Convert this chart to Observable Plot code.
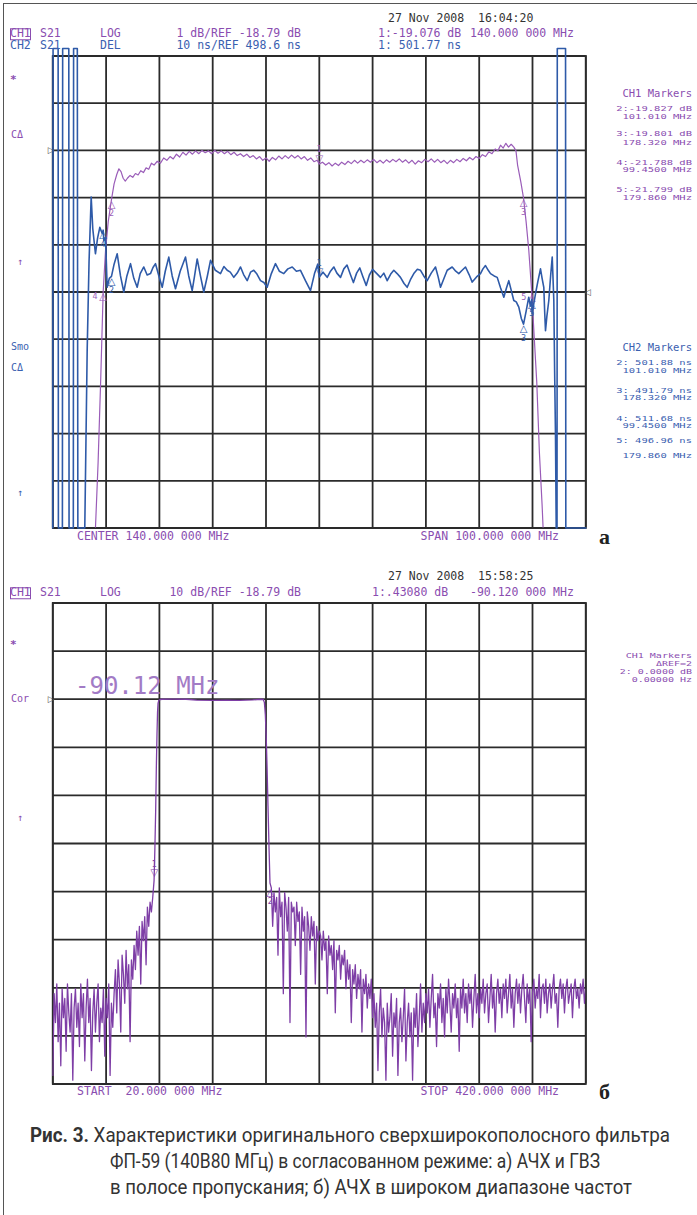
<!DOCTYPE html>
<html>
<head>
<meta charset="utf-8">
<script src="https://cdn.jsdelivr.net/npm/d3@7"></script>
<script src="https://cdn.jsdelivr.net/npm/@observablehq/plot@0.6"></script>
<style>
html,body{margin:0;padding:0;background:#fff;}
#page{position:relative;width:697px;height:1215px;overflow:hidden;background:#fff;}
.t{position:absolute;font-family:"DejaVu Sans Mono",monospace;font-size:11.5px;white-space:pre;line-height:1;transform:translateY(-50%);}
.sq{transform:translateY(-50%) scaleY(0.7);}
.p{color:#8a4db0;}
.b{color:#3a60b0;}
.box{outline:1px solid currentColor;outline-offset:-1px;}
#border{position:absolute;left:3px;top:3px;width:720px;height:1240px;border-left:1.3px solid #555;border-top:1.3px solid #555;}
</style>
</head>
<body>
<div id="page"><div id="border"></div></div>
<script>
// ---------------- DATA ----------------
// Top chart (a): CH1 S21 LOG 1 dB/div, REF -18.79 dB ; CH2 DEL 10 ns/div, REF 498.6 ns ; 90..190 MHz
const topFreqTicks = [90,100,110,120,130,140,150,160,170,180,190];
const ch1DbTicks = [-16.79,-17.79,-18.79,-19.79,-20.79,-21.79,-22.79,-23.79,-24.79,-25.79,-26.79];
const ch1Ref = -18.79;
const ch2Ref = 498.6;

// CH1 amplitude trace [MHz, dB]
const ch1Trace = [
[97.6,-28.0],[98.0,-26.8],[98.5,-25.4],[99.0,-23.6],[99.45,-21.79],[99.9,-20.9],[100.4,-20.3],[101.01,-19.83],[101.5,-19.5],[102.0,-19.3],
[102.4,-19.18],[102.8,-19.24],[103.2,-19.38],[103.6,-19.44],[104.0,-19.38],[104.5,-19.32],[105.0,-19.36],[105.5,-19.28],[106.0,-19.31],[106.5,-19.22],
[107.0,-19.26],[107.5,-19.16],[108.0,-19.19],[108.5,-19.06],[109.0,-19.1],[109.6,-19.02],[110.2,-19.06],[110.8,-18.95],[111.4,-19.0],[112.0,-18.92],
[112.6,-18.97],[113.2,-18.87],[113.8,-18.93],[114.4,-18.83],[115.0,-18.89],[115.6,-18.81],[116.2,-18.87],[116.8,-18.8],[117.4,-18.86],[118.0,-18.79],
[118.6,-18.84],[119.2,-18.8],[119.8,-18.86],[120.4,-18.79],[121.0,-18.85],[121.6,-18.8],[122.2,-18.86],[122.8,-18.81],[123.4,-18.88],[124.0,-18.83],
[124.6,-18.9],[125.2,-18.86],[125.8,-18.92],[126.4,-18.87],[127.0,-18.94],[127.6,-18.9],[128.2,-18.97],[128.8,-18.92],[129.4,-19.0],[130.0,-18.95],
[130.6,-19.02],[131.2,-18.94],[131.8,-18.99],[132.4,-18.91],[133.0,-18.97],[133.6,-18.9],[134.2,-18.96],[134.8,-18.89],[135.4,-18.95],[136.0,-18.9],
[136.6,-18.97],[137.2,-18.92],[137.8,-19.0],[138.4,-18.95],[139.0,-19.03],[139.6,-19.0],[140.0,-19.08],[140.6,-19.04],[141.2,-19.1],[141.8,-19.05],
[142.4,-19.12],[143.0,-19.06],[143.6,-19.11],[144.2,-19.04],[144.8,-19.09],[145.4,-19.02],[146.0,-19.07],[146.6,-19.0],[147.2,-19.06],[147.8,-19.0],
[148.4,-19.05],[149.0,-18.99],[149.6,-19.04],[150.2,-18.98],[150.8,-19.05],[151.4,-19.0],[152.0,-19.06],[152.6,-18.99],[153.2,-19.04],[153.8,-18.98],
[154.4,-19.03],[155.0,-18.97],[155.6,-19.04],[156.2,-18.99],[156.8,-19.06],[157.4,-19.0],[158.0,-19.08],[158.6,-19.01],[159.2,-19.05],[159.8,-18.98],
[160.4,-19.03],[161.0,-18.97],[161.6,-19.04],[162.2,-18.98],[162.8,-19.05],[163.4,-19.0],[164.0,-19.07],[164.6,-19.0],[165.2,-19.05],[165.8,-18.98],
[166.4,-19.03],[167.0,-18.96],[167.6,-19.01],[168.2,-18.94],[168.8,-18.99],[169.4,-18.92],[170.0,-18.96],[170.6,-18.88],[171.2,-18.92],[171.8,-18.82],
[172.4,-18.86],[173.0,-18.76],[173.5,-18.8],[174.0,-18.68],[174.5,-18.74],[175.0,-18.64],[175.5,-18.72],[176.0,-18.66],[176.5,-18.72],[176.9,-18.8],
[177.2,-19.1],[177.8,-19.45],[178.32,-19.8],[178.8,-20.3],[179.3,-20.9],[179.86,-21.8],[180.3,-22.7],[180.8,-23.7],[181.3,-25.2],[181.8,-26.3],[182.3,-27.6]
];

// CH2 group delay trace [MHz, ns]; off-screen excursions shown pinned at the graticule edges as on the screen
const ch2Trace = [
[90.0,448.6],[90.05,550.2],[91.0,550.2],[91.05,448.6],[91.8,448.6],[91.85,550.2],[93.0,550.2],[93.05,448.6],[93.85,448.6],[93.9,550.2],[94.6,550.2],[94.7,448.6],[96.0,448.6],
[96.45,486.2],[96.8,505],[97.2,518.7],[97.5,512],[98.0,506.7],[98.4,510],[98.82,512.3],[99.27,511],[99.45,511.7],[99.57,509.5],[99.89,510.2],[100.2,499.6],
[100.6,501.5],[101.01,501.9],[101.5,504.5],[102.08,506.7],[102.7,502],[103.32,498.6],[103.9,502],[104.58,504.6],[105.2,501.5],[105.83,499.6],
[106.4,502.5],[107.07,503.9],[107.7,502.2],[108.33,502.5],[108.8,503.8],[109.27,504.6],[109.9,502],[110.53,499.6],[111.1,503],[111.76,506.0],
[112.4,502],[113.02,499.3],[113.9,503],[114.9,506.0],[115.5,502],[116.15,498.9],[116.6,502],[117.09,505.6],[117.7,502],[118.33,498.6],
[119.0,502],[119.59,505.3],[120.5,503.2],[121.46,502.5],[122.1,504],[122.72,503.2],[123.3,502.8],[123.96,501.7],[124.6,502.6],[125.22,503.9],
[125.8,502.3],[126.47,501.0],[127.1,502.8],[127.71,503.2],[128.3,502.4],[128.97,501.0],[129.6,500.6],[130.22,499.6],[131.0,502.5],[131.78,504.6],
[132.5,503],[133.34,502.5],[134.1,503.5],[134.92,503.9],[135.7,503.0],[136.47,503.2],[137.4,501],[138.35,498.9],[139.1,502.5],[139.7,504.5],
[140.0,501.8],[140.7,502.8],[141.48,501.7],[142.1,503],[142.72,503.9],[143.3,502.6],[143.98,501.7],[144.6,503.5],[145.2,504.3],[145.8,502.4],
[146.4,500.6],[147.0,502.6],[147.6,503.7],[148.2,501.8],[148.8,500.0],[149.4,502.2],[150.0,503.4],[150.7,502.6],[151.48,501.7],[152.1,502.6],
[152.74,501.0],[153.4,502.4],[153.98,503.2],[154.6,502.5],[155.23,501.7],[155.9,500.4],[156.49,499.6],[157.1,501.2],[157.73,502.5],[158.4,503.4],
[158.99,503.2],[159.6,502.0],[160.24,501.0],[161.0,502.6],[161.8,503.9],[162.3,501.8],[162.74,499.6],[163.4,501.5],[164.0,503.2],[164.93,503.9],
[165.6,503.0],[166.17,502.5],[166.8,503.2],[167.43,503.9],[168.1,502.3],[168.69,500.7],[169.5,501.8],[170.24,502.5],[170.7,503.5],[171.18,504.2],
[171.7,503.2],[172.12,502.5],[172.8,502.0],[173.38,501.7],[174.0,499.5],[174.62,497.5],[175.1,499.4],[175.55,501.0],[176.0,499.0],[176.49,496.8],
[176.95,496.5],[177.43,495.4],[177.9,493],[178.32,491.8],[178.8,494.5],[179.3,497.5],[179.6,495.6],[179.86,497.0],[179.94,494.0],[180.25,496.2],
[180.56,498.2],[181.0,500.8],[181.5,503.5],[181.8,501.5],[182.12,499.6],[182.3,494],[182.44,490.4],[182.7,493.5],[183.06,496.8],[183.4,502],
[183.7,506.0],[183.85,501.5],[184.0,496.8],[184.15,482],[184.31,468.6],[184.45,448.6],[184.6,448.6],[184.65,550.2],[186.2,550.2],[186.25,448.6],[190.0,448.6]
];

const ch1Markers = [
  {n:"1", f:140.0, v:-19.076, active:true},
  {n:"2", f:101.01, v:-19.827},
  {n:"3", f:178.32, v:-19.801},
  {n:"4", f:99.45, v:-21.788, side:true},
  {n:"5", f:179.86, v:-21.799, side:true}
];
const ch2Markers = [
  {n:"1", f:140.0, v:501.77, active:true},
  {n:"2", f:101.01, v:501.88},
  {n:"3", f:178.32, v:491.79},
  {n:"4", f:99.45, v:511.68},
  {n:"5", f:179.86, v:496.96}
];

// Bottom chart (б): CH1 S21 LOG 10 dB/div, REF -18.79 dB, 20..420 MHz
const botFreqTicks = [20,60,100,140,180,220,260,300,340,380,420];
const botDbTicks = [1.21,-8.79,-18.79,-28.79,-38.79,-48.79,-58.79,-68.79,-78.79,-88.79,-98.79];
const botRef = -18.79;
// sweep points 1 MHz apart from 20 MHz (left stop band), dB
const botLeftStart = 20;
const botLeftNoise = [
-97,-80,-86,-78,-90,-82,-95,-79,-85,-81,-92,-78,-84,-88,-80,-98,-83,-79,-87,-82,
-91,-78,-85,-80,-94,-83,-77,-86,-81,-96,-84,-79,-88,-82,-78,-90,-83,-86,-79,-93,
-81,-85,-78,-97,-82,-87,
-80,-75,-84,-73,-78,-88,-72,-76,-82,-71,-79,-74,-90,-73,-77,
-70,-75,-67,-72,-66,-78,-65,-69,-64,-74,-62,-66,-61,-63,-60
];
// skirts and passband [MHz, dB]
const botPass = [
[96.0,-56.5],[96.6,-50],[97.2,-42],[97.7,-33],[98.2,-26],[98.6,-21.5],[99.0,-19.6],[99.6,-19.0],[100.5,-18.85],[102,-18.8],
[110,-18.78],[120,-18.8],[128,-19.0],[140,-19.05],[150,-19.0],[160,-19.05],[170,-18.95],[176,-18.8],[178,-18.85],[178.8,-19.5],
[179.5,-22],[180.2,-27],[180.8,-33],[181.5,-41],[182.3,-50],[183.0,-57]
];
// sweep points 1 MHz apart from 184 MHz (right stop band)
const botRightStart = 184;
const botRightNoise = [
-58,-66,-59,-63,-60,-72,-58,-64,-61,-80,-59,-62,-67,-60,-86,-61,-63,
-62,-70,-61,-65,-63,-76,-62,-67,-64,-89,-63,-66,-71,-64,-68,-65,-78,-66,-69,-67,
-68,-73,-67,-71,-69,-80,-68,-72,-70,-75,-69,-84,-71,-73,-70,-77,-72,-74,-71,-79,
-73,-77,-74,-86,-75,-78,-74,-81,-76,-79,-75,-88,-77,-80,-76,-83,-78,-81,-77,-85,
-80,-87,-82,-96,-84,-79,-89,-83,-86,-98,-82,-88,-85,-80,-93,-84,-87,-81,-97,-86,
-83,-90,-85,-79,-94,-86,-82,-89,-84,-98,-83,-87,-80,-91,-85,-78,-88,-82,-86,-80,
-84,-79,-87,-81,-76,-85,-82,-91,-80,-83,-78,-86,-81,-89,-79,-84,-77,-82,-88,-80,
-83,-78,-85,-81,-92,-79,-83,-77,-84,-80,-86,-78,-82,-79,-87,-81,-76,-84,-80,-85,
-79,-82,-77,-84,-80,-78,-86,-81,-76,-83,-79,-88,-80,-77,-82,-79,-85,-78,-81,-77,
-84,-80,-76,-83,-79,-87,-80,-77,-82,-78,-84,-79,-76,-81,-86,-78,-82,-79,-90,-80,
-77,-83,-79,-81,-76,-85,-79,-78,-82,-77,-84,-80,-78,-83,-79,-76,-82,-80,-87,-79,
-77,-81,-78,-84,-79,-77,-82,-80,-78,-85,-79,-77,-81,-79,-83,-78,-80,-77,-82,-79
];
const botMarkers = [
  {n:"1", f:96.2, v:-56.0, active:true},
  {n:"2", f:183.2, v:-58.0}
];

// texts
const hdrTop = {date:"27 Nov 2008  16:04:20",
  l1:["S21","LOG","1 dB/REF -18.79 dB","1:-19.076 dB","140.000 000 MHz"],
  l2:["S21","DEL","10 ns/REF 498.6 ns","1: 501.77 ns"]};
const ch1MarkerText = ["CH1 Markers","2:-19.827 dB","101.010 MHz","3:-19.801 dB","178.320 MHz","4:-21.788 dB","99.4500 MHz","5:-21.799 dB","179.860 MHz"];
const ch2MarkerText = ["CH2 Markers","2: 501.88 ns","101.010 MHz","3: 491.79 ns","178.320 MHz","4: 511.68 ns","99.4500 MHz","5: 496.96 ns","179.860 MHz"];
const hdrBot = {date:"27 Nov 2008  15:58:25", l1:["S21","LOG","10 dB/REF -18.79 dB","1:.43080 dB","-90.120 000 MHz"]};
const botMarkerText = ["CH1 Markers","\u0394REF=2","2: 0.0000 dB","0.00000 Hz"];
const captionLines = [
  ["Рис. 3.", " Характеристики оригинального сверхширокополосного фильтра"],
  ["", "ФП-59 (140В80 МГц) в согласованном режиме: а) АЧХ и ГВЗ"],
  ["", "в полосе пропускания; б) АЧХ в широком диапазоне частот"]
];

// ---------------- DRAW ----------------
const page = document.getElementById("page");
const PURPLE = "#9a5cb8", PURPLE_D = "#7e3ea6", BLUE = "#2e5aa8", GRID = "#2b2b2b";

const botTrace = [
  ...botLeftNoise.map((v, i) => [botLeftStart + i, v]),
  ...botPass,
  ...botRightNoise.map((v, i) => [botRightStart + i, v])
];

function place(svg, top) {
  svg.style.position = "absolute"; svg.style.left = "0px"; svg.style.top = top + "px";
  page.appendChild(svg);
}
function txt(s, x, y, cls, o = {}) {
  const el = document.createElement("div");
  el.className = "t " + cls;
  el.textContent = s;
  if (o.right) el.style.right = (697 - x) + "px"; else el.style.left = x + "px";
  el.style.top = y + "px";
  if (o.size) el.style.fontSize = o.size + "px";
  if (o.font) el.style.fontFamily = o.font;
  if (o.weight) el.style.fontWeight = o.weight;
  if (o.color) el.style.color = o.color;
  if (o.box) el.classList.add("box");
  if (o.sq) el.classList.add("sq");
  page.appendChild(el);
  return el;
}
function markerMarks(ms, color) {
  const act = ms.filter(d => d.active), oth = ms.filter(d => !d.active);
  const below = oth.filter(d => !d.side), side = oth.filter(d => d.side);
  return [
    Plot.text(oth, {x: "f", y: "v", text: () => "\u25B3", dy: 5, fill: color, fontSize: 10}),
    Plot.text(below, {x: "f", y: "v", text: "n", dy: 14, fill: color, fontSize: 8}),
    Plot.text(side, {x: "f", y: "v", text: "n", dx: -8, dy: 5, fill: color, fontSize: 8}),
    Plot.text(act, {x: "f", y: "v", text: () => "\u25BD", dy: -5, fill: color, fontSize: 10}),
    Plot.text(act, {x: "f", y: "v", text: "n", dy: -14, fill: color, fontSize: 8})
  ];
}
const gridStyle = {stroke: GRID, strokeOpacity: 1, strokeWidth: 1.8};
const baseStyle = {background: "transparent", overflow: "visible", fontFamily: "DejaVu Sans"};

// top chart geometry
const T1 = 0, H1 = 545, MT1 = 55.5, MB1 = 17.5, ML = 52.3, MR = 111.7;

const topA = Plot.plot({
  width: 697, height: H1, marginLeft: ML, marginRight: MR, marginTop: MT1, marginBottom: MB1,
  style: baseStyle,
  x: {domain: [90, 190], axis: null},
  y: {domain: [-26.79, -16.79], axis: null},
  marks: [
    Plot.gridX(topFreqTicks, gridStyle),
    Plot.gridY(ch1DbTicks, gridStyle),
    Plot.frame({stroke: GRID, strokeWidth: 1.8}),
    Plot.line(ch1Trace, {x: d => d[0], y: d => d[1], stroke: PURPLE, strokeWidth: 1.2, clip: true}),
    ...markerMarks(ch1Markers, PURPLE),
    Plot.text([ch1Ref], {y: d => d, frameAnchor: "left", text: () => "\u25B7", dx: -5, fill: "#555", fontSize: 9})
  ]
});
place(topA, T1);

const topB = Plot.plot({
  width: 697, height: H1, marginLeft: ML, marginRight: MR, marginTop: MT1, marginBottom: MB1,
  style: baseStyle,
  x: {domain: [90, 190], axis: null},
  y: {domain: [448.6, 548.6], axis: null},
  marks: [
    Plot.line(ch2Trace, {x: d => d[0], y: d => d[1], stroke: BLUE, strokeWidth: 1.6}),
    ...markerMarks(ch2Markers, BLUE),
    Plot.text([ch2Ref], {y: d => d, frameAnchor: "right", text: () => "\u25C1", dx: 5, fill: "#555", fontSize: 9})
  ]
});
place(topB, T1);

// bottom chart geometry
const T2 = 580, H2 = 515, MT2 = 22.5, MB2 = 11.5;
const bot = Plot.plot({
  width: 697, height: H2, marginLeft: ML, marginRight: MR, marginTop: MT2, marginBottom: MB2,
  style: baseStyle,
  x: {domain: [20, 420], axis: null},
  y: {domain: [-98.79, 1.21], axis: null},
  marks: [
    Plot.gridX(botFreqTicks, gridStyle),
    Plot.gridY(botDbTicks, gridStyle),
    Plot.frame({stroke: GRID, strokeWidth: 1.8}),
    Plot.line(botTrace, {x: d => d[0], y: d => d[1], stroke: PURPLE_D, strokeWidth: 1.3, clip: true}),
    ...markerMarks(botMarkers, PURPLE_D),
    Plot.text([botRef], {y: d => d, frameAnchor: "left", text: () => "\u25B7", dx: -5, fill: "#555", fontSize: 9})
  ]
});
place(bot, T2);

// ---- top header ----
txt(hdrTop.date, 388, 19, "", {color: "#333"});
txt("CH1", 10, 34, "p", {box: true});
txt(hdrTop.l1[0], 40, 34, "p");
txt(hdrTop.l1[1], 100, 34, "p");
txt(hdrTop.l1[2], 301, 34, "p", {right: true});
txt(hdrTop.l1[3], 378, 34, "p");
txt(hdrTop.l1[4], 470, 34, "p");
txt("CH2", 10, 46, "b");
txt(hdrTop.l2[0], 40, 46, "b");
txt(hdrTop.l2[1], 100, 46, "b");
txt(hdrTop.l2[2], 301, 46, "b", {right: true});
txt(hdrTop.l2[3], 378, 46, "b");

// left annunciators (top)
txt("*", 10, 79, "p", {size: 11, weight: "bold"});
txt("C\u0394", 11, 135, "p", {size: 10});
txt("\u2191", 17, 262, "p", {size: 10});
txt("Smo", 11, 347, "b", {size: 10});
txt("C\u0394", 11, 368, "b", {size: 10});
txt("\u2191", 17, 493, "b", {size: 10});

// right marker lists
const ch1Y = [93, 108, 115.5, 133, 141.5, 161.5, 168.5, 188.5, 196.5];
ch1MarkerText.forEach((s, i) => txt(s, 692, ch1Y[i], "p", {right: true, size: 10.5, sq: i > 0}));
const ch2Y = [347, 362, 370, 390, 397, 418, 425, 440, 455];
ch2MarkerText.forEach((s, i) => txt(s, 692, ch2Y[i], "b", {right: true, size: 10.5, sq: i > 0}));

// bottom of top chart
txt("CENTER 140.000 000 MHz", 77, 536.5, "p");
txt("SPAN 100.000 000 MHz", 559, 536.5, "p", {right: true});
txt("a", 599, 537, "", {font: "Liberation Serif", size: 22, weight: "bold", color: "#222"});

// ---- bottom header ----
txt(hdrBot.date, 388, 577, "", {color: "#333"});
txt("CH1", 10, 593, "p", {box: true});
txt(hdrBot.l1[0], 40, 593, "p");
txt(hdrBot.l1[1], 100, 593, "p");
txt(hdrBot.l1[2], 301, 593, "p", {right: true});
txt(hdrBot.l1[3], 372, 593, "p");
txt(hdrBot.l1[4], 470, 593, "p");

txt("*", 10, 644, "p", {size: 11, weight: "bold"});
txt("Cor", 11, 699, "p", {size: 10});
txt("\u2191", 17, 818, "p", {size: 10});

const botY = [656, 664, 672, 680];
botMarkerText.forEach((s, i) => txt(s, 692, botY[i], "p", {right: true, size: 10, sq: true}));

txt("-90.12 MHz", 75, 686, "", {size: 24, color: "#a27bc6"});

txt("START  20.000 000 MHz", 77, 1092, "p");
txt("STOP 420.000 000 MHz", 559, 1092, "p", {right: true});
txt("\u0431", 599, 1092, "", {font: "Liberation Serif", size: 22, weight: "bold", color: "#222"});

// ---- caption ----
const cap = d3.create("svg").attr("width", 697).attr("height", 115)
  .style("position", "absolute").style("left", "0px").style("top", "1100px");
const capX = [[30, 640], [110, 490], [110, 522]];
const capY = [42, 68, 94];
captionLines.forEach((ln, i) => {
  const t = cap.append("text").attr("x", capX[i][0]).attr("y", capY[i])
    .attr("font-family", "Roboto").attr("font-size", 19.5).attr("fill", "#333")
    .attr("textLength", capX[i][1]).attr("lengthAdjust", "spacingAndGlyphs");
  if (ln[0]) t.append("tspan").attr("font-weight", "bold").text(ln[0]);
  t.append("tspan").text(ln[1]);
});
page.appendChild(cap.node());
</script>
</body>
</html>
